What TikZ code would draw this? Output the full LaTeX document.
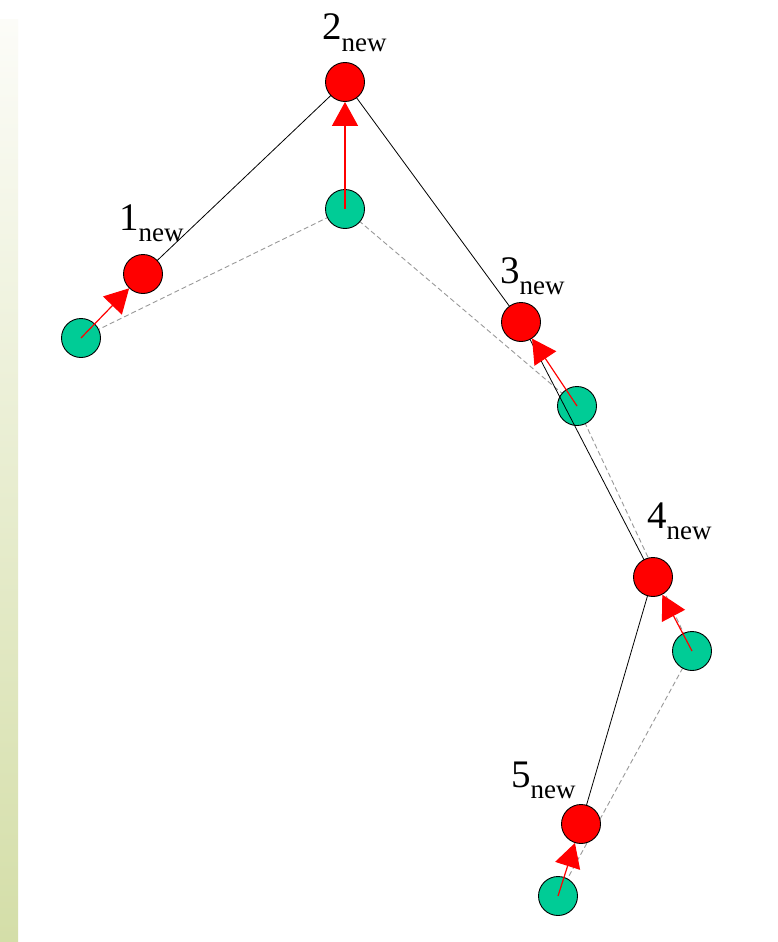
\documentclass[tikz,border=0pt]{standalone}
\usepackage{fontspec}
\setmainfont{Liberation Serif}
\usetikzlibrary{arrows.meta}
\definecolor{oldgreen}{RGB}{0,204,150}
\definecolor{stripbot}{RGB}{212,222,168}
\definecolor{striptop}{RGB}{252,252,248}
\newcommand{\newlab}[1]{#1\raisebox{-11.5pt}{\fontsize{27}{27}\selectfont new}}
\begin{document}
\begin{tikzpicture}[x=1pt,y=-1pt,
  oldpt/.style={circle,draw=black,line width=0.9pt,fill=oldgreen,minimum size=39pt,inner sep=0pt},
  newpt/.style={circle,draw=black,line width=0.9pt,fill=red,minimum size=39pt,inner sep=0pt},
  lab/.style={font=\fontsize{39}{40}\selectfont,inner sep=0pt,anchor=base west},
  newline/.style={draw=black,line width=0.8pt},
  oldline/.style={draw=gray!80,line width=0.9pt,dash pattern=on 5pt off 3pt},
  movearrow/.style={draw=red,line width=1.2pt,-{Triangle[length=24pt,width=26pt]}}
]
\useasboundingbox (0,0) rectangle (777,942);
\fill[white] (0,0) rectangle (777,942);
\shade[top color=striptop,bottom color=stripbot] (0,20) rectangle (18,942);

\coordinate (g1) at (81,338);
\coordinate (g2) at (345,209);
\coordinate (g3) at (577,406);
\coordinate (g4) at (692,651);
\coordinate (g5) at (558,896);

% old (dashed) chain
\draw[oldline] (g1) -- (g2) -- (g3) -- (g4) -- (g5);

\node[oldpt] (o1) at (g1) {};
\node[oldpt] (o2) at (g2) {};
\node[oldpt] (o3) at (g3) {};
\node[oldpt] (o4) at (g4) {};
\node[oldpt] (o5) at (g5) {};

\coordinate (r1) at (143,274);
\coordinate (r2) at (345,82);
\coordinate (r3) at (521,322);
\coordinate (r4) at (653,577);
\coordinate (r5) at (581,824);

\draw[newline] (r1) -- (r2) -- (r3) -- (r4) -- (r5);

\node[newpt] (n1) at (r1) {};
\node[newpt] (n2) at (r2) {};
\node[newpt] (n3) at (r3) {};
\node[newpt] (n4) at (r4) {};
\node[newpt] (n5) at (r5) {};

\draw[movearrow] (o1.center) -- (n1);
\draw[movearrow] (o2.center) -- (n2);
\draw[movearrow] (o3.center) -- (n3);
\draw[movearrow] (o4.center) -- (n4);
\draw[movearrow] (o5.center) -- (n5);

\node[lab] (l1) at (119,230) {\newlab{1}};
\node[lab] (l2) at (322,40) {\newlab{2}};
\node[lab] (l3) at (500,283) {\newlab{3}};
\node[lab] (l4) at (647,528) {\newlab{4}};
\node[lab] (l5) at (511,787) {\newlab{5}};
\end{tikzpicture}
\end{document}
